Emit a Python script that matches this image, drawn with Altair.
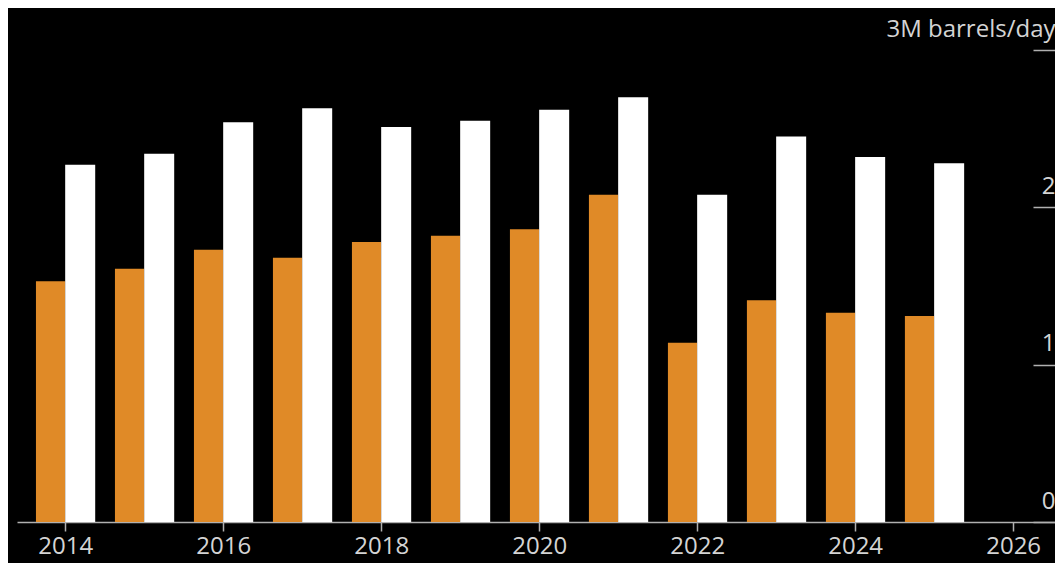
import altair as alt
import pandas as pd

years = list(range(2014, 2026))
orange_vals = [1.53, 1.61, 1.73, 1.68, 1.78, 1.82, 1.86, 2.08, 1.14, 1.41, 1.33, 1.31]
white_vals = [2.27, 2.34, 2.54, 2.63, 2.51, 2.55, 2.62, 2.70, 2.08, 2.45, 2.32, 2.28]
series_names = ["Series A", "Series B"]
bar_colors = ["#E08A27", "#FFFFFF"]
x_ticks = [2014, 2016, 2018, 2020, 2022, 2024, 2026]
y_ticks = [0, 1, 2, 3]

rows = []
for y, a, b in zip(years, orange_vals, white_vals):
    rows.append({"year": y, "series": series_names[0], "value": a})
    rows.append({"year": y, "series": series_names[1], "value": b})
df = pd.DataFrame(rows)

FONT = "Open Sans"
TXT = "#d4d4d4"

chart = alt.Chart(df).transform_calculate(
    x0=f"datum.series == '{series_names[0]}' ? datum.year - 0.37 : datum.year",
    x1=f"datum.series == '{series_names[0]}' ? datum.year : datum.year + 0.38",
).mark_bar().encode(
    x=alt.X("x0:Q",
            scale=alt.Scale(domain=[2013.39, 2026.53], nice=False, zero=False),
            axis=alt.Axis(values=x_ticks, format="d", title=None, grid=False,
                          domainColor="#b0b0b0", domainWidth=1.5,
                          tickColor="#b0b0b0", tickSize=9, tickWidth=1.5,
                          labelColor=TXT, labelFont=FONT, labelFontSize=24,
                          labelPadding=3, labelFlush=False)),
    x2="x1:Q",
    y=alt.Y("value:Q",
            scale=alt.Scale(domain=[0, 3], nice=False),
            axis=alt.Axis(orient="right", values=y_ticks, title=None, grid=False,
                          domain=False, offset=-22, tickSize=22, tickWidth=1.5,
                          tickColor="#b0b0b0",
                          labelAlign="right", labelBaseline="alphabetic",
                          labelOffset=-14, labelPadding=0,
                          labelColor=TXT, labelFont=FONT, labelFontSize=24,
                          labelExpr="datum.value == 3 ? '3M barrels/day' : datum.label")),
    y2=alt.datum(0),
    color=alt.Color("series:N", scale=alt.Scale(domain=series_names, range=bar_colors), legend=None),
).properties(
    width=1038, height=472, background="#000000",
    padding={"left": 9, "top": 42, "right": 0, "bottom": 41},
    autosize=alt.AutoSizeParams(type="none"),
).configure_view(stroke=None)

chart.save("out.html", embed_options={"renderer": "svg", "actions": False})
